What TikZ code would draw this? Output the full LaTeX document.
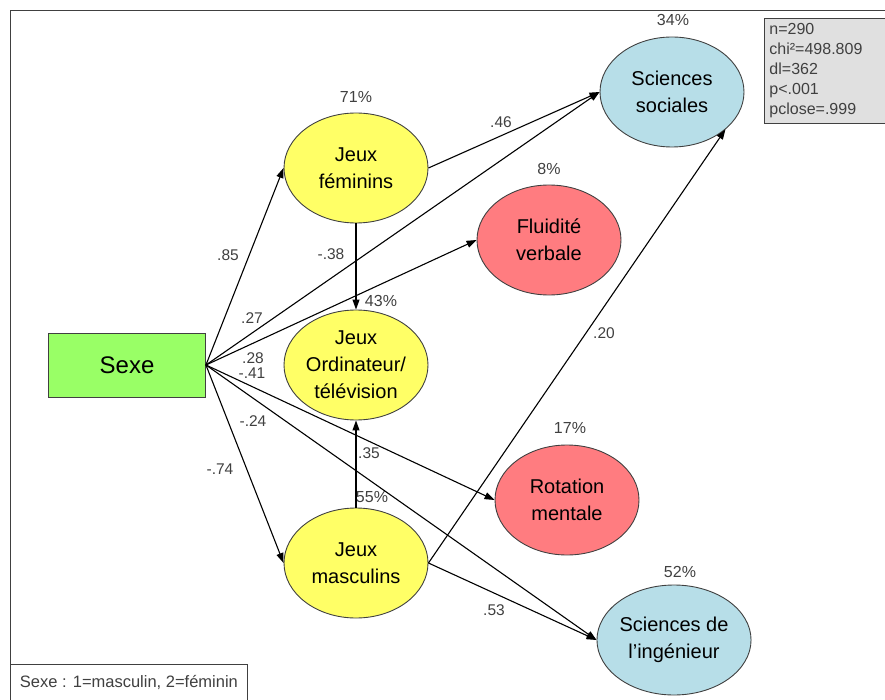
\documentclass[tikz,border=0pt]{standalone}
\usepackage{fontspec}
\setmainfont{Liberation Sans}
\usetikzlibrary{shapes.geometric,arrows.meta}
\definecolor{cgreen}{HTML}{99FF66}
\definecolor{cyellow}{HTML}{FFFF66}
\definecolor{cred}{HTML}{FF7C80}
\definecolor{cblue}{HTML}{B7DEE8}
\definecolor{cgray}{HTML}{E0E0E0}
\definecolor{ctext}{HTML}{404040}
\definecolor{cedge}{HTML}{404040}
\tikzset{
  ell/.style={ellipse, draw=cedge, line width=0.9pt, minimum width=144pt, minimum height=110pt, inner sep=0pt, align=center,
    font=\fontsize{20}{27}\selectfont},
  arr/.style={-{Triangle[length=10pt,width=7pt]}, line width=1.1pt, black},
  coef/.style={text=ctext, font=\fontsize{15.5}{18}\selectfont, inner sep=0pt},
  pct/.style={text=ctext, font=\fontsize{16}{18}\selectfont, inner sep=0pt},
}
\begin{document}
\begin{tikzpicture}[x=1pt,y=-1pt]
\useasboundingbox (0,0) rectangle (885,700);
% frame
\draw[line width=1pt, cedge] (10,700) -- (10,11) -- (885,11);
% nodes
\node[draw=cedge, line width=0.9pt, fill=cgreen, minimum width=157pt, minimum height=64pt, inner sep=0pt,
  font=\fontsize{24}{27}\selectfont] (sexe) at (127,365) {Sexe};
\node[ell, fill=cyellow] (jf) at (356,168) {Jeux\\féminins};
\node[ell, fill=cyellow] (jot) at (356,365) {Jeux\\Ordinateur/\\télévision};
\node[ell, fill=cyellow] (jm) at (356,563) {Jeux\\masculins};
\node[ell, fill=cblue] (ss) at (672,92) {Sciences\\sociales};
\node[ell, fill=cred] (fv) at (549,240) {Fluidité\\verbale};
\node[ell, fill=cred] (rm) at (567,500) {Rotation\\mentale};
\node[ell, fill=cblue] (si) at (674,640) {Sciences de\\l’ingénieur};
% percentages
\node[pct] (pjf) at (356,97) {71\%};
\node[pct] (pjot) at (381,301) {43\%};
\node[pct] (pjm) at (372,497) {55\%};
\node[pct] (pss) at (673,20) {34\%};
\node[pct] (pfv) at (549,169) {8\%};
\node[pct] (prm) at (570,428) {17\%};
\node[pct] (psi) at (680,572) {52\%};
% stats box
\node[draw=cedge, line width=0.9pt, fill=cgray, anchor=north west, minimum width=122pt, minimum height=105pt,
  align=left, inner xsep=5pt, inner ysep=4pt, text=ctext, font=\fontsize{16}{20}\selectfont, text width=112pt]
  (stats) at (764,18) {n=290\\chi²=498.809\\dl=362\\p<.001\\pclose=.999};
% legend
\node[draw=cedge, line width=0.9pt, fill=white, anchor=south west, minimum width=237pt, minimum height=36pt,
  inner xsep=6pt, text=ctext, font=\fontsize{16.5}{18}\selectfont] (leg) at (10,701) {Sexe : 1=masculin, 2=féminin};
% edges
\draw[arr] (sexe.east) -- (jf.west);
\draw[arr] (sexe.east) -- (jm.west);
\draw[arr] (sexe.east) -- (ss.west);
\draw[arr] (sexe.east) -- (fv.west);
\draw[arr] (sexe.east) -- (rm.west);
\draw[arr] (sexe.east) -- (si.west);
\draw[arr] (jf.south) -- (jot.north);
\draw[arr] (jm.north) -- (jot.south);
\draw[arr] (jf.east) -- (ss.west);
\draw[arr] (jm.east) -- (ss.-35);
\draw[arr] (jm.east) -- (si.west);
% coefficients
\node[coef] (c1) at (228,255) {.85};
\node[coef] (c2) at (220,469) {-.74};
\node[coef] (c3) at (252,318) {.27};
\node[coef] (c4) at (253,358) {.28};
\node[coef] (c5) at (252,373) {-.41};
\node[coef] (c6) at (253,421) {-.24};
\node[coef] (c7) at (331,254) {-.38};
\node[coef] (c8) at (369,453) {.35};
\node[coef] (c9) at (501,122) {.46};
\node[coef] (c10) at (604,333) {.20};
\node[coef] (c11) at (494,610) {.53};
\end{tikzpicture}
\end{document}
